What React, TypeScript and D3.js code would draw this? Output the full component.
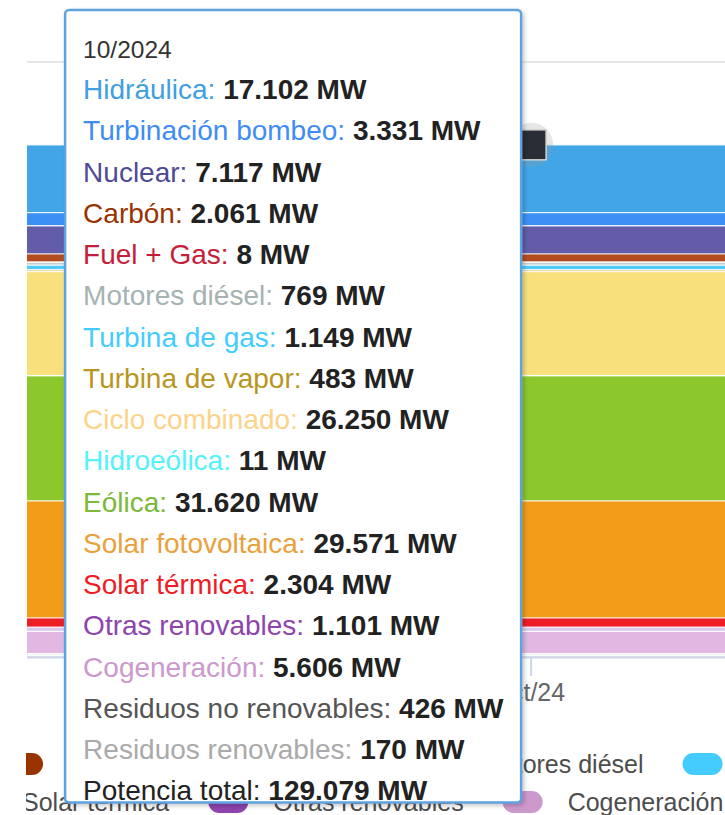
import { useMemo } from 'react'
import * as d3 from 'd3'

// Potencia instalada por tecnología (MW), punto 10/2024
const month = new Date(2024, 9, 1)
const series = [
  'Hidráulica', 'Turbinación bombeo', 'Nuclear', 'Carbón', 'Fuel + Gas', 'Motores diésel',
  'Turbina de gas', 'Turbina de vapor', 'Ciclo combinado', 'Hidroeólica', 'Eólica',
  'Solar fotovoltaica', 'Solar térmica', 'Otras renovables', 'Cogeneración',
  'Residuos no renovables', 'Residuos renovables',
]
const values = [17102, 3331, 7117, 2061, 8, 769, 1149, 483, 26250, 11, 31620, 29571, 2304, 1101, 5606, 426, 170]
const totalLabel = 'Potencia total'
const yTicks = [0, 50000, 100000, 150000]
// visible window of the zoomed time axis
const xWindow = [new Date(2024, 8, 9, 8), new Date(2024, 9, 9, 8)]
const legendRows = [series.slice(0, 12), series.slice(12)]

// styles
const colors = ['#3f9fe0', '#3f8cf2', '#4f4a98', '#993300', '#c41e3a', '#a5b2b2', '#44ccff', '#b8961e',
  '#fbd38a', '#55f2fa', '#7cb83a', '#eaa03c', '#ee1c24', '#8e44ad', '#cc99cc', '#555555', '#aaaaaa']
const fills = ['#41a5e6', '#3b8ff5', '#625ca9', '#b24c1e', '#c41e3a', '#c4cccc', '#4ecbf8', '#d8c060',
  '#f8e07d', '#5ff4fc', '#8cc82b', '#f39c19', '#ee1c24', '#dcc6ec', '#e2b8e2', '#eeeeee', '#f4f4f4']
const FONT = '"Liberation Sans", Arial, sans-serif'

const es = d3.formatLocale({ decimal: ',', thousands: '.', grouping: [3], currency: ['', ' €'] })
const fmt = es.format(',d')
const esTime = d3.timeFormatLocale({
  dateTime: '%A, %e de %B de %Y, %X',
  date: '%d/%m/%Y',
  time: '%H:%M:%S',
  periods: ['AM', 'PM'],
  days: ['domingo', 'lunes', 'martes', 'miércoles', 'jueves', 'viernes', 'sábado'],
  shortDays: ['dom', 'lun', 'mar', 'mié', 'jue', 'vie', 'sáb'],
  months: ['enero', 'febrero', 'marzo', 'abril', 'mayo', 'junio', 'julio', 'agosto', 'septiembre', 'octubre', 'noviembre', 'diciembre'],
  shortMonths: ['ene', 'feb', 'mar', 'abr', 'may', 'jun', 'jul', 'ago', 'sep', 'oct', 'nov', 'dic'],
})
const tickFmt = esTime.format('%b/%y')
const headFmt = esTime.format('%m/%Y')

let ctx: CanvasRenderingContext2D | null = null
function measure(text: string, font: string) {
  if (!ctx) ctx = document.createElement('canvas').getContext('2d')
  ctx!.font = font
  return ctx!.measureText(text).width
}

export default function App() {
  const W = 725
  const H = 815
  const plot = { left: 27, right: 725, top: 62, bottom: 656 }

  const x = d3.scaleTime().domain(xWindow).range([plot.left, plot.right])
  const y = d3.scaleLinear().domain([0, 150000]).range([plot.bottom, plot.top])

  const row: Record<string, number> = {}
  series.forEach((s, i) => (row[s] = values[i]))
  const stacked = d3.stack<Record<string, number>>().keys(series).order(d3.stackOrderReverse)([row])
  const total = d3.sum(values)

  const px = x(month)
  const py = y(total)

  // tooltip
  const tipSize = 28
  const tipFont = `${tipSize}px ${FONT}`
  const tipBold = `bold ${tipSize}px ${FONT}`
  const tipRows = [
    ...series.map((s, i) => ({ name: s, value: values[i], color: colors[i] })),
    { name: totalLabel, value: total, color: '#222222' },
  ]
  const pad = 18
  const lineH = 41.25
  const textW = d3.max(tipRows, (r) => measure(r.name + ': ', tipFont) + measure(fmt(r.value) + ' MW', tipBold)) || 0
  const tipW = Math.round(textW + pad * 2)
  const tipX = px - 10 - tipW
  const tipY = 10
  const tipH = 50 + tipRows.length * lineH

  // legend layout
  const legFont = `25px ${FONT}`
  const legendAnchor = [{ name: 'Carbón', x: 3 }, { name: 'Solar térmica', x: -43 }]
  const legendY = [764, 802]
  const legendItems = useMemo(() => {
    const out: { name: string; color: string; sx: number; tx: number; cy: number }[] = []
    legendRows.forEach((names, r) => {
      let cur = 0
      const items = names.map((n) => {
        const it = { name: n, color: colors[series.indexOf(n)], sx: cur, tx: cur + 65, cy: legendY[r] }
        cur += 65 + measure(n, legFont) + 39
        return it
      })
      const a = items.find((it) => it.name === legendAnchor[r].name)!
      const shift = legendAnchor[r].x - a.sx
      items.forEach((it) => out.push({ ...it, sx: it.sx + shift, tx: it.tx + shift }))
    })
    return out
  }, [])

  const xTicks = x.ticks(d3.timeMonth.every(1)!)

  return (
    <svg width={W} height={H} style={{ position: 'absolute', left: 0, top: 0, background: '#fff' }} fontFamily={FONT}>
      <defs>
        <clipPath id="chartClip">
          <rect x={26} y={0} width={W - 26} height={H} />
        </clipPath>
        <filter id="tipShadow" x="-5%" y="-5%" width="115%" height="115%">
          <feDropShadow dx="2" dy="2" stdDeviation="2" floodColor="#000" floodOpacity="0.22" />
        </filter>
      </defs>

      <g clipPath="url(#chartClip)">
        {yTicks.map((t) => (
          <line key={t} x1={plot.left} x2={plot.right} y1={y(t)} y2={y(t)} stroke="#e6e6e6" strokeWidth={2} />
        ))}

        {stacked.map((layer) => {
          const i = series.indexOf(layer.key)
          const d = layer[0]
          return (
            <rect key={layer.key} x={x(xWindow[0])} width={x(xWindow[1]) - x(xWindow[0])}
              y={y(d[1])} height={Math.max(0, y(d[0]) - y(d[1]))} fill={fills[i]} />
          )
        })}
        {stacked.map((layer) => (
          <line key={'l' + layer.key} x1={plot.left} x2={plot.right} y1={y(layer[0][1])} y2={y(layer[0][1])}
            stroke="#ffffff" strokeOpacity={0.85} strokeWidth={1.3} />
        ))}

        <line x1={plot.left} x2={plot.right} y1={plot.bottom + 1.5} y2={plot.bottom + 1.5} stroke="#ccd6eb" strokeWidth={2} />
        {xTicks.map((t) => (
          <g key={+t}>
            <line x1={x(t)} x2={x(t)} y1={plot.bottom + 2} y2={plot.bottom + 20} stroke="#ccd6eb" strokeWidth={2} />
            <text x={x(t)} y={701} textAnchor="middle" fontSize={25} fill="#666666">{tickFmt(t)}</text>
          </g>
        ))}

        {legendItems.map((it) => (
          <g key={it.name}>
            <rect x={it.sx} y={it.cy - 11} width={40} height={22} rx={11} fill={it.color} />
            <text x={it.tx} y={it.cy + 9} fontSize={25} fill="#4d4d4d">{it.name}</text>
          </g>
        ))}

        {/* hovered point */}
        <circle cx={px} cy={py} r={22} fill="#9a9a9a" opacity={0.25} />
        <rect x={px - 15} y={py - 15} width={30} height={30} fill="#2b2d36" stroke="#d4d4d4" strokeWidth={1.5} />
      </g>

      <g>
        <rect x={tipX} y={tipY} width={tipW} height={tipH} rx={4} fill="#ffffff"
          stroke="#5fa2dd" strokeWidth={2.5} filter="url(#tipShadow)" />
        <text x={tipX + pad} y={tipY + 48} fontSize={24.5} fill="#333333">{headFmt(month)}</text>
        {tipRows.map((r, i) => (
          <text key={r.name} x={tipX + pad} y={tipY + 89 + i * lineH} fontSize={tipSize} style={{ whiteSpace: 'pre' }}>
            <tspan fill={r.color}>{r.name + ':'}</tspan>
            <tspan fill="#222222" fontWeight="bold">{' ' + fmt(r.value) + ' MW'}</tspan>
          </text>
        ))}
      </g>
    </svg>
  )
}
